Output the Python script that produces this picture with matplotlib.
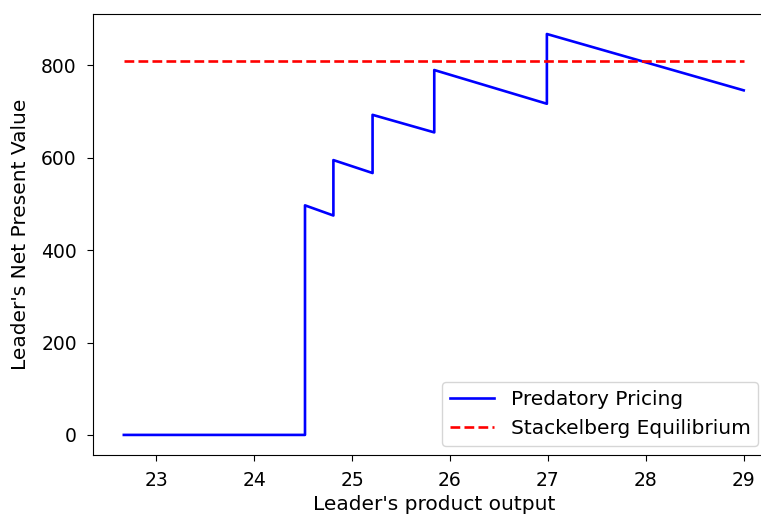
import matplotlib

matplotlib.use("Agg")
import matplotlib.pyplot as plt  # noqa: E402

# Leader output vs. net present value under predatory pricing (breakpoints of the sawtooth)
output = [22.67, 24.52, 24.52, 24.81, 24.81, 25.21, 25.21, 25.84, 25.84, 26.99, 26.99, 29.0]
npv = [0, 0, 497, 475, 595, 567, 693, 655, 790, 717, 868, 746]

# Stackelberg equilibrium NPV (constant benchmark)
stackelberg_npv = 810
stackelberg_span = [22.67, 29.0]

plt.rcParams["font.size"] = 14.5

fig = plt.figure(figsize=(7.61, 5.17), dpi=100)
ax = fig.add_axes([0.122, 0.12, 0.896, 0.853])

ax.plot(output, npv, color="blue", linewidth=1.9, label="Predatory Pricing")
ax.plot(stackelberg_span, [stackelberg_npv] * 2, color="red", linestyle="--",
        linewidth=1.9, label="Stackelberg Equilibrium")

ax.set_xlabel("Leader's product output", labelpad=4)
ax.set_ylabel("Leader's Net Present Value", labelpad=8)
ax.set_yticks([0, 200, 400, 600, 800])
ax.tick_params(labelsize=13.5, length=4.5, pad=7)
ax.legend(loc="lower right", fontsize=14.5, handlelength=2.2,
          bbox_to_anchor=(0.991, -0.003))

fig.savefig("out.png", dpi=100)
plt.close(fig)
